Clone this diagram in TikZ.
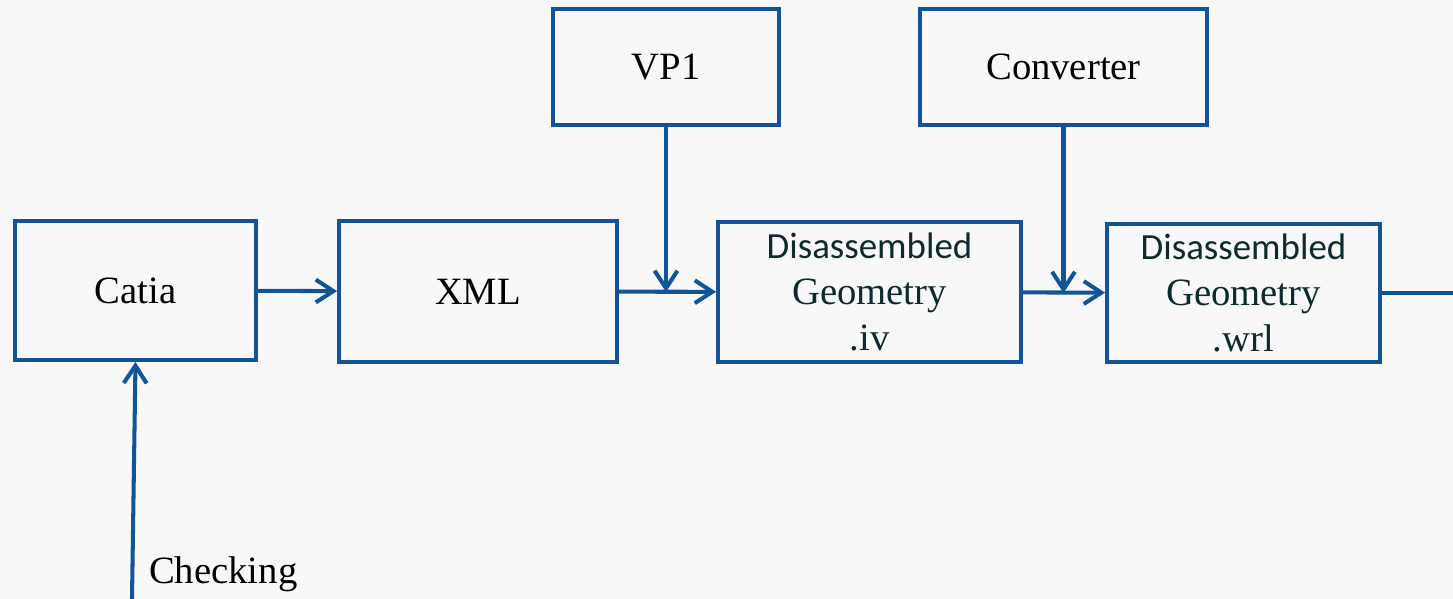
\documentclass[tikz,border=0pt]{standalone}
\usepackage{fontspec}
\setmainfont{Liberation Serif}
\newfontfamily\dissans{Carlito}
\usetikzlibrary{arrows.meta}
\definecolor{flowblue}{RGB}{18,84,152}
\definecolor{disteal}{RGB}{14,42,46}
\definecolor{paper}{RGB}{248,248,248}
\begin{document}
\begin{tikzpicture}
    % Define the styles for the blocks and arrows
    \tikzstyle{block}=[rectangle, draw=flowblue, line width=2.2pt, text centered, align=center, inner sep=0pt, font=\fontsize{22}{26}\selectfont]
    \tikzstyle{arrow}=[line width=2.3pt, draw=flowblue, -{Straight Barb[length=10pt, width=13pt]}]
    \tikzstyle{line}=[line width=2.3pt, draw=flowblue]

    % Background and picture size
    \fill[paper] (0,0) rectangle (29.06,-11.98);
    \useasboundingbox (0,0) rectangle (29.06,-11.98);

    % Draw the blocks
    \node[block, minimum width=4.82cm, minimum height=2.78cm] (catia) at (2.71,-5.81) {Catia};
    \node[block, minimum width=5.56cm, minimum height=2.82cm] (xml) at (9.56,-5.83) {XML};
    \node[block, minimum width=4.52cm, minimum height=2.32cm] (vp1) at (13.32,-1.34) {VP1};
    \node[block, minimum width=5.74cm, minimum height=2.32cm] (converter) at (21.27,-1.34) {Converter};
    \node[block, minimum width=6.06cm, minimum height=2.80cm, text=disteal] (disiv) at (17.39,-5.84) {{\dissans\fontsize{21}{26}\selectfont Disassembled}\\Geometry\\.iv};
    \node[block, minimum width=5.46cm, minimum height=2.76cm, text=disteal] (diswrl) at (24.87,-5.86) {{\dissans\fontsize{21}{26}\selectfont Disassembled}\\Geometry\\.wrl};

    % Free ends and label
    \coordinate (outend) at (29.06,-5.86);
    \coordinate (checkstart) at (2.64,-11.98);
    \node[anchor=base west, font=\fontsize{22}{26}\selectfont] (checklbl) at (2.86,-11.66) {Checking};

    % Draw the arrows between the blocks
    \draw[arrow] (catia) -- (xml);
    \draw[arrow] (xml) -- (disiv);
    \draw[arrow] (vp1) -- (vp1 |- disiv.west);
    \draw[arrow] (disiv) -- (diswrl);
    \draw[arrow] (converter) -- (converter |- diswrl.west);
    \draw[line] (diswrl) -- (outend);
    \draw[arrow] (checkstart) -- (catia.south);
\end{tikzpicture}
\end{document}
